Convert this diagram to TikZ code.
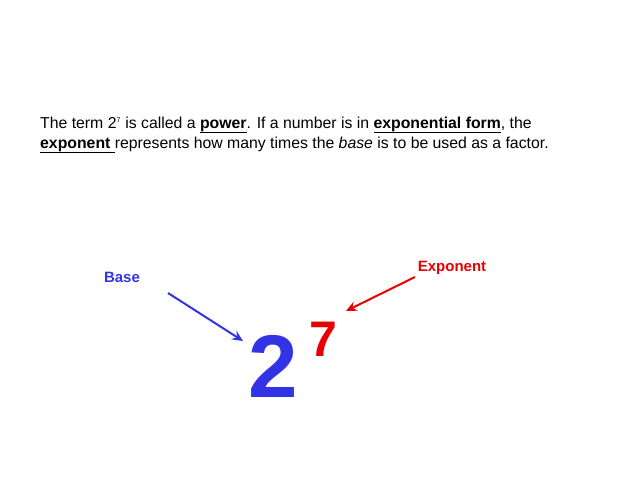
\documentclass[tikz,border=0pt]{standalone}
\usepackage{fontspec}
\setmainfont{Liberation Sans}
\usetikzlibrary{arrows.meta}
\definecolor{baseblue}{RGB}{51,51,230}
\definecolor{expred}{RGB}{230,0,0}
\tikzset{
  label/.style={font=\fontsize{15}{16}\selectfont\bfseries, inner sep=0pt},
  pointer/.style={line width=2pt, -{Stealth[length=11pt,width=10pt,inset=4pt]}}
}
\begin{document}
\begin{tikzpicture}[x=1pt,y=-1pt]
\useasboundingbox (0,0) rectangle (638,479);
\node[anchor=base west, inner sep=0pt, font=\fontsize{15.8}{20}\selectfont] (line1) at (40,128)
  {The term 2\textsuperscript{\scriptsize 7} is called a \textbf{\underline{power}}. If a number is in \textbf{\underline{exponential form}}, the};
\node[anchor=base west, inner sep=0pt, font=\fontsize{15.8}{20}\selectfont] (line2) at (40,148)
  {\textbf{\underline{exponent }}represents how many times the \textit{base} is to be used as a factor.};
\node[label, text=baseblue] (base) at (122,277) {Base};
\node[label, text=expred] (expo) at (452,268) {Exponent};
\node[inner sep=0pt, anchor=base, text=baseblue, font=\fontsize{89}{90}\selectfont\bfseries] (two) at (273,397) {2};
\node[inner sep=0pt, anchor=base, text=expred, font=\fontsize{50}{52}\selectfont\bfseries] (seven) at (323,356) {7};
\coordinate (bstart) at (168,293);
\coordinate (bend) at (243,341);
\coordinate (estart) at (415,277);
\coordinate (eend) at (346,311);
\draw[pointer, baseblue] (bstart) -- (bend);
\draw[pointer, expred] (estart) -- (eend);
\end{tikzpicture}
\end{document}
